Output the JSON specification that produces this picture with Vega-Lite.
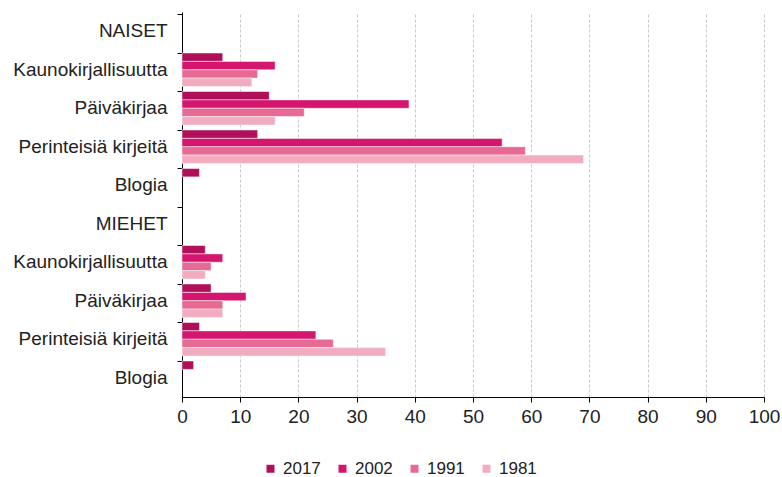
{
  "$schema": "https://vega.github.io/schema/vega-lite/v6.json",
  "width": 582,
  "height": 385,
  "autosize": "none",
  "padding": {"left": 182, "top": 12, "right": 18, "bottom": 80},
  "background": "white",
  "config": {
    "view": {"stroke": null},
    "font": "Liberation Sans",
    "axis": {"labelFont": "Liberation Sans", "labelColor": "#222222"}
  },
  "data": {
    "values": [
      {"cat": "Kaunokirjallisuutta|N", "year": "2017", "value": 7},
      {"cat": "Kaunokirjallisuutta|N", "year": "2002", "value": 16},
      {"cat": "Kaunokirjallisuutta|N", "year": "1991", "value": 13},
      {"cat": "Kaunokirjallisuutta|N", "year": "1981", "value": 12},
      {"cat": "Päiväkirjaa|N", "year": "2017", "value": 15},
      {"cat": "Päiväkirjaa|N", "year": "2002", "value": 39},
      {"cat": "Päiväkirjaa|N", "year": "1991", "value": 21},
      {"cat": "Päiväkirjaa|N", "year": "1981", "value": 16},
      {"cat": "Perinteisiä kirjeitä|N", "year": "2017", "value": 13},
      {"cat": "Perinteisiä kirjeitä|N", "year": "2002", "value": 55},
      {"cat": "Perinteisiä kirjeitä|N", "year": "1991", "value": 59},
      {"cat": "Perinteisiä kirjeitä|N", "year": "1981", "value": 69},
      {"cat": "Blogia|N", "year": "2017", "value": 3},
      {"cat": "Kaunokirjallisuutta|M", "year": "2017", "value": 4},
      {"cat": "Kaunokirjallisuutta|M", "year": "2002", "value": 7},
      {"cat": "Kaunokirjallisuutta|M", "year": "1991", "value": 5},
      {"cat": "Kaunokirjallisuutta|M", "year": "1981", "value": 4},
      {"cat": "Päiväkirjaa|M", "year": "2017", "value": 5},
      {"cat": "Päiväkirjaa|M", "year": "2002", "value": 11},
      {"cat": "Päiväkirjaa|M", "year": "1991", "value": 7},
      {"cat": "Päiväkirjaa|M", "year": "1981", "value": 7},
      {"cat": "Perinteisiä kirjeitä|M", "year": "2017", "value": 3},
      {"cat": "Perinteisiä kirjeitä|M", "year": "2002", "value": 23},
      {"cat": "Perinteisiä kirjeitä|M", "year": "1991", "value": 26},
      {"cat": "Perinteisiä kirjeitä|M", "year": "1981", "value": 35},
      {"cat": "Blogia|M", "year": "2017", "value": 2}
    ]
  },
  "mark": {"type": "bar", "stroke": "#ffffff", "strokeWidth": 0.8, "strokeOpacity": 0.6},
  "encoding": {
    "y": {
      "field": "cat",
      "type": "nominal",
      "scale": {
        "domain": ["NAISET|N", "Kaunokirjallisuutta|N", "Päiväkirjaa|N", "Perinteisiä kirjeitä|N", "Blogia|N",
                   "MIEHET|M", "Kaunokirjallisuutta|M", "Päiväkirjaa|M", "Perinteisiä kirjeitä|M", "Blogia|M"],
        "paddingInner": 0.13,
        "paddingOuter": 0.065
      },
      "axis": {
        "title": null,
        "labelExpr": "split(datum.label, '|')[0]",
        "labelFontSize": 19,
        "bandPosition": 0,
        "labelPadding": 10,
        "ticks": true,
        "tickSize": 5,
        "tickColor": "#000000",
        "domainColor": "#000000",
        "domainWidth": 1,
        "grid": false
      }
    },
    "yOffset": {
      "field": "year",
      "type": "nominal",
      "scale": {"domain": ["2017", "2002", "1991", "1981"], "paddingInner": 0, "paddingOuter": 0}
    },
    "x": {
      "field": "value",
      "type": "quantitative",
      "scale": {"domain": [0, 100], "nice": false},
      "axis": {
        "title": null,
        "values": [0, 10, 20, 30, 40, 50, 60, 70, 80, 90, 100],
        "labelFontSize": 19,
        "labelPadding": 5,
        "tickSize": 5,
        "tickColor": "#000000",
        "domainColor": "#000000",
        "grid": true,
        "gridColor": "#c8c8c8",
        "gridDash": [3, 2],
        "gridWidth": 1,
        "labelFlush": false
      }
    },
    "color": {
      "field": "year",
      "type": "nominal",
      "scale": {"domain": ["2017", "2002", "1991", "1981"], "range": ["#b0105a", "#d4166e", "#e66a93", "#f1acc0"]},
      "legend": {
        "title": null,
        "orient": "none",
        "direction": "horizontal",
        "legendX": 80,
        "legendY": 448,
        "symbolType": "square",
        "symbolSize": 64,
        "symbolStrokeWidth": 0,
        "labelFontSize": 17,
        "labelFont": "Liberation Sans",
        "labelColor": "#222222",
        "labelOffset": 4,
        "columnPadding": 13
      }
    }
  }
}
